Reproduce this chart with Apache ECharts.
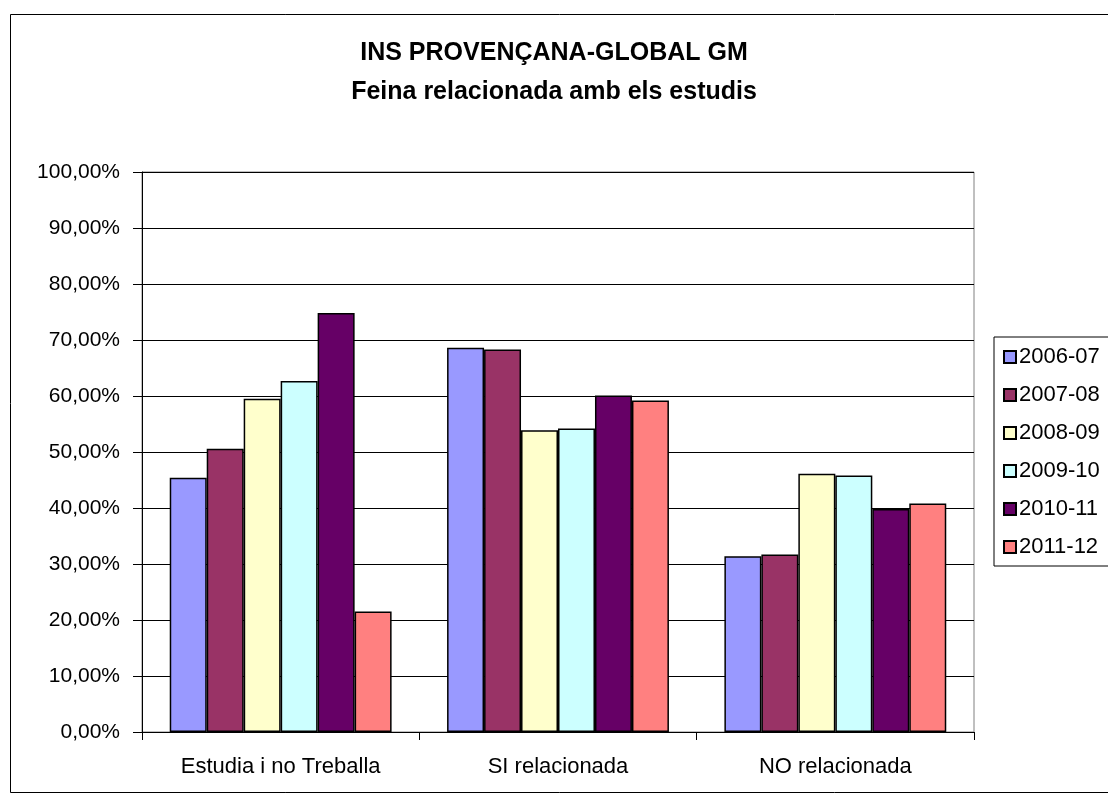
<!DOCTYPE html>
<html>
<head>
<meta charset="utf-8">
<script src="https://cdn.jsdelivr.net/npm/echarts@6/dist/echarts.min.js"></script>
<style>
html,body{margin:0;padding:0;background:#fff;}
#chart{width:1108px;height:798px;}
</style>
</head>
<body>
<div id="chart"></div>
<script>
const categories = ['Estudia i no Treballa', 'SI relacionada', 'NO relacionada'];
const seriesNames = ['2006-07', '2007-08', '2008-09', '2009-10', '2010-11', '2011-12'];
const s2006_07 = [45.4, 68.6, 31.4];
const s2007_08 = [50.6, 68.3, 31.7];
const s2008_09 = [59.5, 53.9, 46.1];
const s2009_10 = [62.7, 54.2, 45.8];
const s2010_11 = [74.8, 60.1, 39.8];
const s2011_12 = [21.5, 59.2, 40.8];
const seriesValues = [s2006_07, s2007_08, s2008_09, s2009_10, s2010_11, s2011_12];
const colors = ['#9999FF', '#993366', '#FFFFCC', '#CCFFFF', '#660066', '#FF8080'];
const titleLines = ['INS PROVENÇANA-GLOBAL GM', 'Feina relacionada amb els estudis'];

const FONT = 'Liberation Sans, Arial, sans-serif';
const chart = echarts.init(document.getElementById('chart'), null, {renderer: 'canvas'});
chart.setOption({
  backgroundColor: '#ffffff',
  animation: false,
  color: colors,
  graphic: [{
    type: 'rect', left: 8, top: 12, z: -1,
    shape: {width: 1120, height: 778},
    style: {fill: 'none', stroke: '#000', lineWidth: 1}
  }],
  title: {
    text: titleLines.join('\n'),
    left: 'center',
    top: 29,
    textStyle: {fontFamily: FONT, fontSize: 25, fontWeight: 'bold', color: '#000', lineHeight: 39}
  },
  legend: {
    orient: 'vertical',
    left: 994,
    top: 337,
    data: seriesNames,
    itemWidth: 12,
    itemHeight: 12,
    itemGap: 16,
    padding: [9, 40, 8, 9],
    borderColor: '#000',
    borderWidth: 1,
    backgroundColor: '#fff',
    icon: 'rect',
    textStyle: {fontFamily: FONT, fontSize: 22, color: '#000', lineHeight: 22, height: 22, padding: [0,0,0,-2]}
  },
  grid: {
    left: 142, right: 134, top: 172, bottom: 66,
    show: true, borderColor: '#808080', borderWidth: 1
  },
  xAxis: {
    type: 'category',
    data: categories,
    axisLine: {lineStyle: {color: '#000', width: 1}},
    axisTick: {show: true, length: 8, lineStyle: {color: '#000'}},
    axisLabel: {fontFamily: FONT, fontSize: 22, color: '#000', margin: 24},
    splitLine: {show: false}
  },
  yAxis: {
    type: 'value',
    min: 0, max: 100, interval: 10,
    axisLine: {show: true, lineStyle: {color: '#000', width: 1}},
    axisTick: {show: true, length: 9, lineStyle: {color: '#000'}},
    axisLabel: {fontFamily: FONT, fontSize: 21, color: '#000', margin: 22,
      formatter: v => v.toFixed(2).replace('.', ',') + '%'},
    splitLine: {show: true, lineStyle: {color: '#000', width: 1}}
  },
  series: seriesNames.map((name, i) => ({
    name: name,
    type: 'bar',
    data: seriesValues[i],
    barGap: '0%',
    barCategoryGap: '20%',
    itemStyle: {color: colors[i], borderColor: '#000', borderWidth: 1.5}
  }))
});
</script>
</body>
</html>
